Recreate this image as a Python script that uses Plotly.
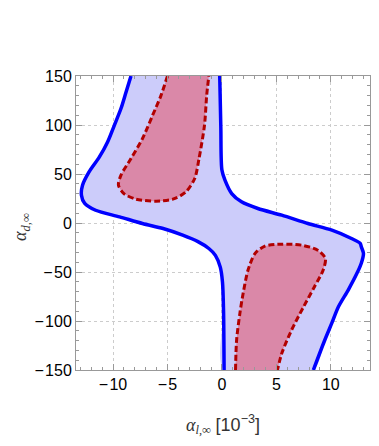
import plotly.graph_objects as go

# boundary of the outer (blue) region; x in units of 10^-3
blue_left_x = [-8.35, -8.8, -9.27, -9.88, -10.5, -11.25, -12.2, -12.8, -12.9, -12.6,
               -11.6, -9.4, -7.3, -5.4, -3.6, -2.2, -1.2, -0.6, -0.15, 0.05, 0.15, 0.2]
blue_left_y = [150, 133.7, 116.8, 99.7, 82.7, 67.4, 52.1, 38.6, 28.4, 20,
               13, 6.3, -0.5, -5.6, -12.4, -19, -26, -33, -45, -60, -90, -150]
blue_right_x = [8.4, 9.45, 10.1, 10.7, 11.6, 12.4, 12.8, 13.0, 12.8, 12.7, 11.9,
                10.1, 7.9, 5.5, 3.3, 1.8, 0.9, 0.28, 0.0, -0.1, -0.2]
blue_right_y = [-150, -119.4, -102, -85.5, -68.4, -51.4, -41, -31, -24.3, -20.8, -15.8,
                -7.3, -0.5, 8, 14.8, 21.6, 30, 43.7, 54, 98, 150]

# inner (red) regions
red_upper_x = [-5.0, -5.6, -6.36, -7.3, -8.35, -9.27, -9.5, -9.0, -7.9, -6.05,
               -4.5, -3.3, -2.5, -2.1, -1.6, -1.4, -1.2]
red_upper_y = [150, 130, 110, 86, 65.8, 48.8, 38.6, 30, 24.3, 22.3,
               24.3, 31.8, 45.4, 65.8, 99.7, 130, 150]
red_lower_x = [1.25, 1.35, 1.65, 1.95, 2.4, 3.05, 3.95, 5.5, 7.3, 8.8,
               9.5, 9.3, 8.5, 7.5, 6.4, 5.5, 5.1]
red_lower_y = [-150, -119.4, -92.2, -71.8, -48, -31, -23.6, -21.6, -22.6, -27.7,
               -36.2, -48, -65, -85.5, -109.2, -133, -150]

x_ticks = [-10, -5, 0, 5, 10]
x_ticktext = ["\u2212\u200a10", "\u2212\u200a5", "0", "5", "10"]
y_ticks = [-150, -100, -50, 0, 50, 100, 150]
y_ticktext = ["\u2212\u200a150", "\u2212\u200a100", "\u2212\u200a50", "0", "50", "100", "150"]

BLUE_FILL = "rgb(204,204,250)"
RED_FILL = "rgb(218,136,168)"
BLUE = "rgb(0,0,255)"
RED = "rgb(178,0,0)"
SPLINE = dict(shape="spline", smoothing=0.8)

fig = go.Figure()

# fills
fig.add_trace(go.Scatter(x=blue_left_x + blue_right_x, y=blue_left_y + blue_right_y,
                         fill="toself", fillcolor=BLUE_FILL, mode="lines",
                         line=dict(width=0, **SPLINE)))
for xs, ys in [(red_upper_x, red_upper_y), (red_lower_x, red_lower_y)]:
    fig.add_trace(go.Scatter(x=xs, y=ys, fill="toself", fillcolor=RED_FILL, mode="lines",
                             line=dict(width=0, **SPLINE)))

# boundaries
for xs, ys in [(red_upper_x, red_upper_y), (red_lower_x, red_lower_y)]:
    fig.add_trace(go.Scatter(x=xs, y=ys, mode="lines",
                             line=dict(color=RED, width=3, dash="6px,3px", **SPLINE)))
for xs, ys in [(blue_left_x, blue_left_y), (blue_right_x, blue_right_y)]:
    fig.add_trace(go.Scatter(x=xs, y=ys, mode="lines",
                             line=dict(color=BLUE, width=3.5, **SPLINE)))

axis_common = dict(
    showline=True, linecolor="#999999", linewidth=1, mirror="allticks",
    ticks="inside", ticklen=6, tickcolor="#999999",
    showgrid=True, gridcolor="#cccccc", griddash="dot", gridwidth=1,
    zeroline=False, automargin=False,
    tickfont=dict(family="Liberation Sans, Arial", size=16, color="black"),
)

fig.update_xaxes(range=[-13.4, 13.6], tickvals=x_ticks, ticktext=x_ticktext,
                 minor=dict(dtick=1, tick0=0, ticks="inside", ticklen=3, tickcolor="#999999",
                            showgrid=False),
                 **axis_common)
fig.update_yaxes(range=[-150, 150], tickvals=y_ticks, ticktext=y_ticktext,
                 minor=dict(dtick=10, tick0=0, ticks="inside", ticklen=3, tickcolor="#999999",
                            showgrid=False),
                 **axis_common)

label_font = dict(family="Liberation Serif", size=18, color="#333333")
sans = "<span style='font-family:Liberation Sans'>"
fig.add_annotation(text="<i>α</i><sub><i>l</i>,∞</sub> " + sans + "[10<sup>−3</sup>]</span>",
                   xref="paper", yref="paper", x=0.5, y=-0.185,
                   xanchor="center", yanchor="middle", showarrow=False, font=label_font)
fig.add_annotation(text="<i>α</i><sub><i>d</i>,∞</sub>",
                   xref="paper", yref="paper", x=-0.185, y=0.485, textangle=-90,
                   xanchor="center", yanchor="middle", showarrow=False, font=label_font)

# the page adds an 8px body margin, so the figure is sized to fit inside the window
fig.update_layout(
    width=371, height=438,
    margin=dict(l=68, r=9, t=68, b=76),
    plot_bgcolor="white", paper_bgcolor="white",
    showlegend=False,
)

fig.write_html("out.html")
